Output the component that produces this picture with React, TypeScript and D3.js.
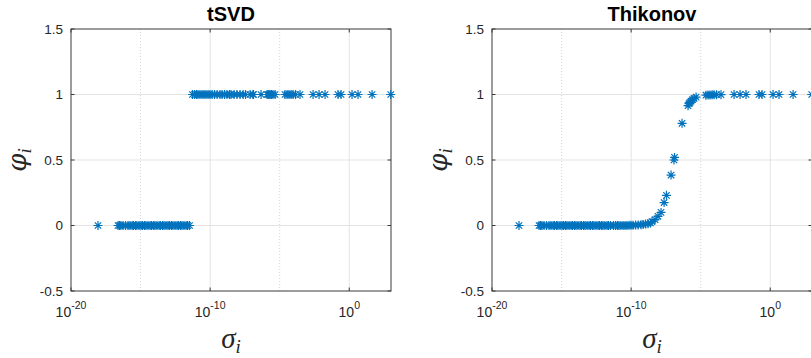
import React from 'react';
import * as d3 from 'd3';

// log10 of the singular values sigma_i
const sigmaExp = [
  -18.06, -16.62, -16.51, -16.41, -16.26, -16.08, -15.9, -15.76, -15.61, -15.51,
  -15.36, -15.26, -15.11, -14.97, -14.86, -14.72, -14.61, -14.46, -14.32, -14.21,
  -14.07, -13.96, -13.82, -13.67, -13.57, -13.42, -13.31, -13.17, -13.03, -12.92,
  -12.78, -12.67, -12.52, -12.38, -12.27, -12.13, -12.02, -11.88, -11.73, -11.62,
  -11.48,
  -11.27, -11.12, -10.98, -10.87, -10.73, -10.58, -10.44, -10.3, -10.15, -10.01,
  -9.86, -9.68, -9.5, -9.29, -9.14, -8.96, -8.79, -8.61, -8.5, -8.28,
  -8.07, -7.85, -7.63, -7.46, -7.13, -6.92, -6.88, -6.34, -5.91, -5.84,
  -5.77, -5.69, -5.59, -5.48, -5.33, -4.62, -4.47, -4.33, -4.18, -4.04,
  -3.86, -3.54, -2.6, -2.17, -1.74, -0.81, -0.59, 0.2, 0.63, 1.64,
  2.98,
];

// filter factors, truncated SVD
const phiTsvd = [
  0, 0, 0, 0, 0, 0, 0, 0, 0, 0,
  0, 0, 0, 0, 0, 0, 0, 0, 0, 0,
  0, 0, 0, 0, 0, 0, 0, 0, 0, 0,
  0, 0, 0, 0, 0, 0, 0, 0, 0, 0,
  0,
  1, 1, 1, 1, 1, 1, 1, 1, 1, 1,
  1, 1, 1, 1, 1, 1, 1, 1, 1, 1,
  1, 1, 1, 1, 1, 1, 1, 1, 1, 1,
  1, 1, 1, 1, 1, 1, 1, 1, 1, 1,
  1, 1, 1, 1, 1, 1, 1, 1, 1, 1,
  1,
];

// filter factors, Tikhonov
const phiTikhonov = [
  0, 0, 0, 0, 0, 0, 0, 0, 0, 0,
  0, 0, 0, 0, 0, 0, 0, 0, 0, 0,
  0, 0, 0, 0, 0, 0, 0, 0, 0, 0,
  0, 0, 0, 0, 0, 0, 0, 0, 0, 0,
  0,
  0, 0, 0, 0, 0, 0, 0, 0, 0.001, 0.001,
  0.002, 0.003, 0.004, 0.006, 0.008, 0.012, 0.013, 0.02, 0.03, 0.045,
  0.07, 0.1, 0.175, 0.23, 0.385, 0.5, 0.52, 0.78, 0.915, 0.93,
  0.94, 0.95, 0.96, 0.97, 0.98, 0.995, 0.996, 0.997, 0.998, 0.998,
  0.999, 0.999, 1, 1, 1, 1, 1, 1, 1, 1,
  1,
];

const yTicks = [-0.5, 0, 0.5, 1, 1.5];
const yTickLabels = ['-0.5', '0', '0.5', '1', '1.5'];
const xMajorExp = [-20, -10, 0];
const xMinorExp = [-15, -5];
const panelTitles = ['tSVD', 'Thikonov'];

const W = 811;
const H = 358;
const PLOT_W = 320;
const PLOT_TOP = 29;
const PLOT_BOTTOM = 291;
const panelLefts = [71, 492];

const TEXT = '#262626';
const BLUE = '#0072BD';
const SANS = '"Liberation Sans", Arial, Helvetica, sans-serif';
const SERIF = '"Liberation Serif", "Times New Roman", serif';
const MATH = '"DejaVu Serif", "Liberation Serif", serif';

const star = 'M-4.5,0H4.5M0,-4.5V4.5M-3.2,-3.2L3.2,3.2M-3.2,3.2L3.2,-3.2';

function Panel({ left, title, phi }: { left: number; title: string; phi: number[] }) {
  const x = d3.scaleLog().domain([1e-20, 1e3]).range([left, left + PLOT_W]);
  const y = d3.scaleLinear().domain([-0.5, 1.5]).range([PLOT_BOTTOM, PLOT_TOP]);
  const right = left + PLOT_W;
  const cx = left + PLOT_W / 2;

  const points = sigmaExp.map((e, i) => ({ s: Math.pow(10, e), p: phi[i] }));

  return (
    <g>
      {/* grid */}
      {yTicks.slice(1, -1).map((t) => (
        <line key={'gy' + t} x1={left} x2={right} y1={y(t)} y2={y(t)} stroke="#e3e3e3" strokeWidth={1} />
      ))}
      {xMinorExp.map((e) => (
        <line key={'gm' + e} x1={x(Math.pow(10, e))} x2={x(Math.pow(10, e))} y1={PLOT_TOP} y2={PLOT_BOTTOM}
          stroke="#d6d6d6" strokeWidth={1} strokeDasharray="1,2" />
      ))}
      {xMajorExp.slice(1).map((e) => (
        <line key={'gx' + e} x1={x(Math.pow(10, e))} x2={x(Math.pow(10, e))} y1={PLOT_TOP} y2={PLOT_BOTTOM}
          stroke="#e3e3e3" strokeWidth={1} />
      ))}

      {/* box */}
      <rect x={left} y={PLOT_TOP} width={PLOT_W} height={PLOT_BOTTOM - PLOT_TOP} fill="none" stroke="#3a3a3a" strokeWidth={1} />

      {/* ticks */}
      {yTicks.map((t) => (
        <g key={'ty' + t}>
          <line x1={left} x2={left + 3.5} y1={y(t)} y2={y(t)} stroke="#3a3a3a" />
          <line x1={right} x2={right - 3.5} y1={y(t)} y2={y(t)} stroke="#3a3a3a" />
        </g>
      ))}
      {xMajorExp.map((e) => (
        <g key={'tx' + e}>
          <line x1={x(Math.pow(10, e))} x2={x(Math.pow(10, e))} y1={PLOT_BOTTOM} y2={PLOT_BOTTOM - 3.5} stroke="#3a3a3a" />
          <line x1={x(Math.pow(10, e))} x2={x(Math.pow(10, e))} y1={PLOT_TOP} y2={PLOT_TOP + 3.5} stroke="#3a3a3a" />
        </g>
      ))}

      {/* tick labels */}
      {yTicks.map((t, i) => (
        <text key={'ly' + t} x={left - 8} y={y(t)} dy="0.35em" textAnchor="end"
          fontFamily={SANS} fontSize={13.5} fill={TEXT}>{yTickLabels[i]}</text>
      ))}
      {xMajorExp.map((e) => (
        <text key={'lx' + e} x={x(Math.pow(10, e))} y={316.5} textAnchor="middle"
          fontFamily={SANS} fontSize={14} fill={TEXT}>
          10<tspan fontSize={10.5} dy={-8}>{String(e)}</tspan>
        </text>
      ))}

      {/* title and axis labels */}
      <text x={cx} y={21} textAnchor="middle" fontFamily={SANS} fontWeight="bold" fontSize={20} fill="#000">{title}</text>
      <text x={cx} y={348} textAnchor="middle" fontFamily={SERIF} fontStyle="italic" fontSize={29} fill={TEXT}>
        σ<tspan fontSize={19} dy={5}>i</tspan>
      </text>
      <text transform={`translate(${left - 45},${(PLOT_TOP + PLOT_BOTTOM) / 2}) rotate(-90)`} textAnchor="middle"
        fontFamily={MATH} fontStyle="italic" fontSize={26} fill={TEXT}>
        φ<tspan fontFamily={SERIF} fontSize={19} dy={5}>i</tspan>
      </text>

      {/* data */}
      {points.map((d, i) => (
        <path key={'p' + i} d={star} transform={`translate(${x(d.s)},${y(d.p)})`} stroke={BLUE} strokeWidth={1.2} fill="none" />
      ))}
    </g>
  );
}

export default function App() {
  return (
    <svg width={W} height={H} style={{ position: 'absolute', left: 0, top: 0, background: '#fff' }}>
      <rect width={W} height={H} fill="#fff" />
      <Panel left={panelLefts[0]} title={panelTitles[0]} phi={phiTsvd} />
      <Panel left={panelLefts[1]} title={panelTitles[1]} phi={phiTikhonov} />
    </svg>
  );
}
